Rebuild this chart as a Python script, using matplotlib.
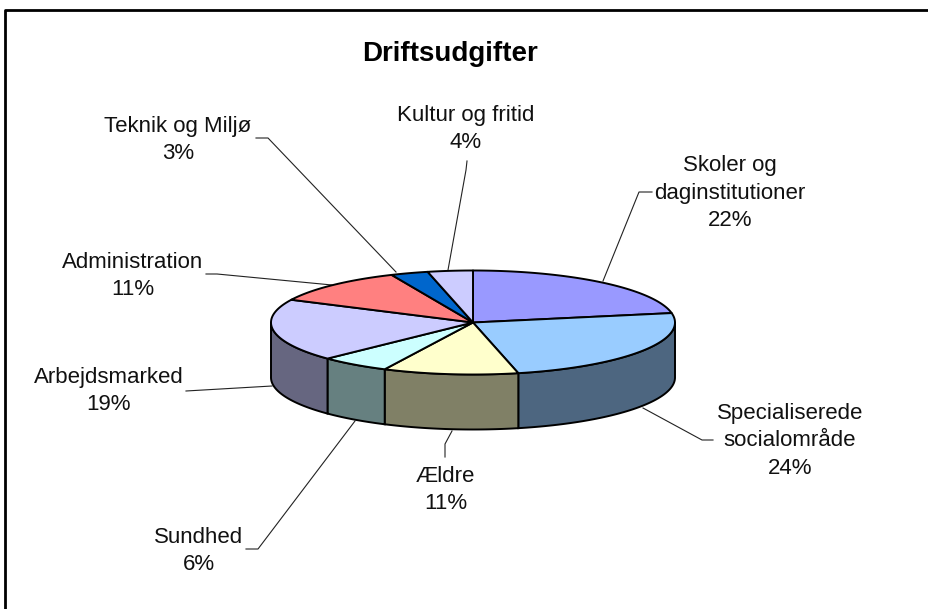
import numpy as np
import matplotlib
matplotlib.use("Agg")
import matplotlib.pyplot as plt
from matplotlib.patches import Polygon

plt.rcParams['font.family'] = ['Liberation Sans', 'DejaVu Sans']

# data (percent values estimated from the slice edges, labels show them rounded)
kategorier = ["Skoler og\ndaginstitutioner", "Specialiserede\nsocialområde", "Ældre", "Sundhed",
              "Arbejdsmarked", "Administration", "Teknik og Miljø", "Kultur og fritid"]
procenter = [22.1, 24.3, 10.8, 5.6, 19.4, 11.2, 3.0, 3.6]
farver_top = ["#9999FF", "#99CCFF", "#FFFFCC", "#CCFFFF", "#CCCCFF", "#FF8080", "#0066CC", "#CCCCFF"]
farver_side = ["#4D4D80", "#4D6680", "#808066", "#668080", "#666680", "#804040", "#003366", "#666680"]

# label centres in pixels, and leader lines from label to pie
etiket_pos = [(730, 193), (790, 441), (445.5, 490), (199, 551), (108.5, 391), (133, 276), (178, 140), (466, 129)]
leder = [[(652, 192), (639, 192), (603, 281)],
         [(713, 440), (702, 440), (643, 408)],
         [(445, 457), (445, 444), (452, 431)],
         [(246, 549), (258, 549), (355, 421)],
         [(186, 391), (272, 386)],
         [(206, 274), (217, 274), (332, 285)],
         [(256, 138), (268, 138), (396, 272)],
         [(467, 161), (466, 170), (448, 270)]]

W, H = 929, 609
fig = plt.figure(figsize=(W / 100, H / 100), dpi=100)
ax = fig.add_axes([0, 0, 1, 1])
ax.set_xlim(0, W)
ax.set_ylim(H, 0)
ax.axis("off")

# frame
ax.plot([5.3, 5.3, W + 5], [H + 5, 9.7, 9.7], color="black", lw=2, zorder=1)

cx, cy, rx, ry, dybde = 473, 322.5, 202, 52, 55

def punkt(t, dy=0):
    # t in degrees, clockwise from the top
    a = np.radians(t)
    return cx + rx * np.sin(a), cy - ry * np.cos(a) + dy

kanter = np.cumsum([0] + procenter) * 3.6

# side walls, only the front half (90..270 deg) is visible
for i in range(len(procenter)):
    t0, t1 = max(kanter[i], 90), min(kanter[i + 1], 270)
    if t1 <= t0:
        continue
    ts = np.linspace(t0, t1, 60)
    x, y = punkt(ts)
    xb, yb = punkt(ts, dybde)
    pts = np.r_[np.c_[x, y], np.c_[xb, yb][::-1]]
    ax.add_patch(Polygon(pts, closed=True, fc=farver_side[i], ec="black", lw=1.4, zorder=2))

# top surface
for i in range(len(procenter)):
    ts = np.linspace(kanter[i], kanter[i + 1], 80)
    x, y = punkt(ts)
    pts = np.r_[[[cx, cy]], np.c_[x, y]]
    ax.add_patch(Polygon(pts, closed=True, fc=farver_top[i], ec="black", lw=1.4, joinstyle="round", zorder=3))

for linje in leder:
    lx, ly = zip(*linje)
    ax.plot(lx, ly, color="#222222", lw=0.8, zorder=1.5)

ax.text(450.5, 54, "Driftsudgifter", ha="center", va="center", fontsize=20, fontweight="bold")
for navn, pct, (x, y) in zip(kategorier, procenter, etiket_pos):
    ax.text(x, y, f"{navn}\n{pct:.0f}%", ha="center", va="center", fontsize=16, linespacing=1.38, color="#111111", zorder=5)

fig.savefig("out.png", dpi=100)
